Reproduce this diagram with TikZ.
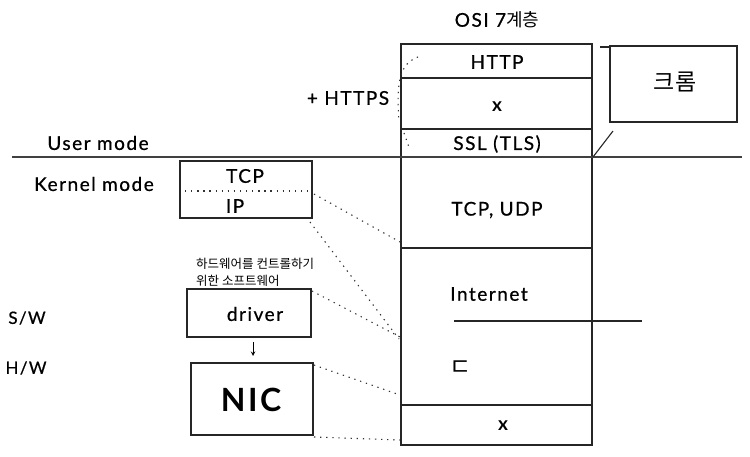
\documentclass[tikz,border=0pt]{standalone}
\usepackage{fontspec}
\setmainfont{Lato}[LetterSpace=8,UprightFeatures={FakeBold=0.7}]
\newfontfamily\kr{Noto Sans CJK KR}
\begin{document}
\begin{tikzpicture}[x=1pt,y=-1pt,
  box/.style={draw=black!85,line width=1.1pt},
  dotln/.style={draw=black!80,line width=1.1pt,dash pattern=on 1.3pt off 4.8pt},
  lbl/.style={inner sep=0pt,font=\fontsize{19}{22}\selectfont},
  cross/.style={inner sep=0pt,font=\bfseries\fontsize{19}{22}\selectfont}]
\useasboundingbox[fill=white] (0,0) rectangle (750,457);
% OSI stack
\draw[box] (401,44) rectangle (592,445);
\draw[box] (401,78) -- (592,78);
\draw[box] (401,129) -- (592,129);
\draw[box] (401,248) -- (592,248);
\draw[box] (401,405) -- (592,405);
\node[lbl] (osi) at (497,20) {OSI 7{\kr\fontsize{18}{20}\selectfont 계층}};
\node[lbl] (http) at (497,62) {HTTP};
\node[cross] (x1) at (497,107) {x};
\node[lbl] (ssl) at (497,144) {SSL (TLS)};
\node[lbl] (tcpudp) at (497,210) {TCP, UDP};
\node[lbl] (inet) at (489,294) {Internet};
\node[lbl,font=\kr\fontsize{24}{26}\selectfont] (d) at (461,368) {ㄷ};
\node[cross] (x2) at (503,426) {x};
\draw[box] (454,321) -- (642,321);
% user / kernel line
\draw[draw=black!75,line width=1.6pt] (12,157) -- (742,157);
\node[lbl] (user) at (98,143) {User mode};
\node[lbl] (kernel) at (94,184) {Kernel mode};
% HTTPS bracket
\node[lbl] (https) at (348,98) {+ HTTPS};
\coordinate (b1) at (418,57);
\coordinate (b2) at (399,122);
\coordinate (b3) at (404,133);
\coordinate (b4) at (410,150);
\draw[dotln] (b1) .. controls (400,64) and (396,80) .. (b2);
\draw[dotln] (b3) -- (b4);
% Chrome box
\draw[box] (610,46) rectangle (737,122);
\node[font=\kr\fontsize{23}{26}\selectfont] (chrome) at (675,82) {크롬};
\draw[box] (600,47) -- (610,47);
\coordinate (c1) at (593,157);
\coordinate (c2) at (613,131);
\draw[box] (c1) -- (c2);
% TCP/IP box
\draw[box] (180,161) rectangle (312,218);
\node[lbl] (tcp) at (245,176) {TCP};
\node[lbl] (ip) at (235,206) {IP};
\coordinate (tl) at (185,191);
\coordinate (tr) at (312,191);
\draw[dotln] (tl) -- (tr);
% driver
\draw[box] (187,289) rectangle (311,337);
\node[lbl] (driver) at (255,314) {driver};
\node[anchor=west,align=left,inner sep=0pt,font=\kr\fontsize{12.5}{17}\selectfont] (note) at (196,272) {하드웨어를 컨트롤하기\\위한 소프트웨어};
% NIC
\draw[box] (191,363) rectangle (313,435);
\node[inner sep=0pt,font=\bfseries\fontsize{32}{36}\selectfont] (nic) at (251,400) {NIC};
\coordinate (a1) at (253,342);
\coordinate (a2) at (253,356);
\draw[line width=1pt,->,>=stealth] (a1) -- (a2);
% S/W H/W
\node[lbl,font=\fontsize{17}{20}\selectfont] (sw) at (27,318) {S/W};
\node[lbl,font=\fontsize{17}{20}\selectfont] (hw) at (26,368) {H/W};
% dotted projections
\coordinate (p1) at (314,194);
\coordinate (q1) at (400,242);
\coordinate (p2) at (310,222);
\coordinate (q2) at (399,339);
\coordinate (p3) at (312,291);
\coordinate (q3) at (400,337);
\coordinate (p4) at (314,365);
\coordinate (q4) at (400,395);
\coordinate (p5) at (314,437);
\coordinate (q5) at (400,440);
\draw[dotln] (p1) -- (q1);
\draw[dotln] (p2) -- (q2);
\draw[dotln] (p3) -- (q3);
\draw[dotln] (p4) -- (q4);
\draw[dotln] (p5) -- (q5);
\end{tikzpicture}
\end{document}
